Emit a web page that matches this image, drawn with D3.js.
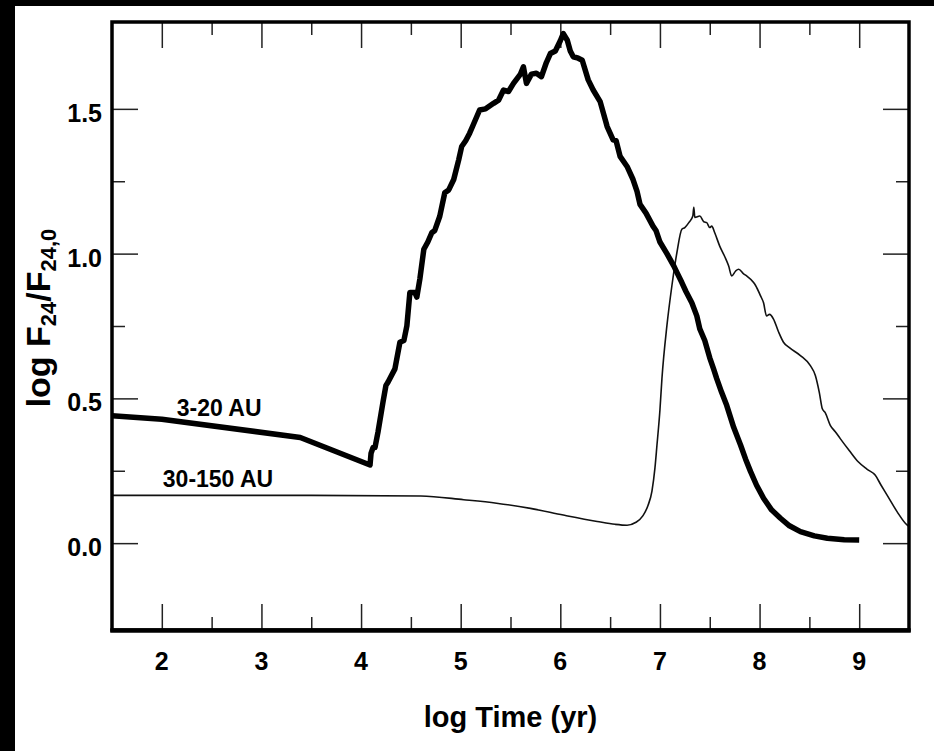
<!DOCTYPE html>
<html>
<head>
<meta charset="utf-8">
<script src="https://cdn.jsdelivr.net/npm/d3@7"></script>
<style>
  body { margin: 0; background: #fff; }
  svg { display: block; font-family: "Liberation Sans", Arial, Helvetica, sans-serif; font-weight: bold; }
</style>
</head>
<body>
<svg id="chart" width="934" height="751"></svg>
<script>
// curves: [log time, log F24/F24,0]
var inner = [[1.5,0.44],[2.0,0.428],[3.39,0.365],[4.09,0.27],[4.10,0.31],[4.12,0.33],[4.14,0.33],[4.17,0.384],
  [4.22,0.487],[4.25,0.545],[4.27,0.556],[4.34,0.602],[4.39,0.694],[4.43,0.70],[4.46,0.751],[4.49,0.866],
  [4.54,0.866],[4.56,0.85],[4.59,0.912],[4.63,1.015],[4.67,1.04],[4.71,1.072],[4.74,1.08],[4.79,1.129],
  [4.84,1.21],[4.88,1.22],[4.93,1.256],[4.98,1.324],[5.01,1.37],[5.05,1.39],[5.09,1.416],[5.12,1.44],
  [5.19,1.496],[5.25,1.50],[5.33,1.519],[5.38,1.53],[5.43,1.565],[5.48,1.56],[5.53,1.588],[5.60,1.62],
  [5.63,1.645],[5.66,1.588],[5.71,1.62],[5.76,1.623],[5.81,1.611],[5.86,1.66],[5.90,1.691],[5.95,1.70],
  [6.0,1.735],[6.03,1.76],[6.07,1.737],[6.10,1.70],[6.13,1.68],[6.18,1.675],[6.22,1.668],[6.28,1.6],
  [6.33,1.565],[6.40,1.525],[6.47,1.439],[6.53,1.393],[6.56,1.39],[6.60,1.336],[6.67,1.301],[6.73,1.256],
  [6.77,1.215],[6.80,1.17],[6.86,1.14],[6.93,1.095],[6.96,1.08],[7.0,1.04],[7.07,1.0],[7.14,0.957],
  [7.17,0.935],[7.22,0.90],[7.26,0.87],[7.32,0.83],[7.37,0.785],[7.40,0.74],[7.45,0.70],[7.50,0.64],
  [7.54,0.60],[7.57,0.568],[7.62,0.52],[7.67,0.476],[7.74,0.40],[7.81,0.338],[7.86,0.29],[7.91,0.247],
  [7.97,0.20],[8.04,0.155],[8.12,0.115],[8.21,0.086],[8.30,0.06],[8.41,0.040],[8.55,0.025],[8.68,0.017],
  [8.85,0.012],[9.0,0.011]];

var outer = [[1.5,0.165],[3.5,0.165],[4.6,0.163],[5.03,0.150],[5.36,0.138],[5.70,0.120],[6.03,0.097],[6.37,0.075],
  [6.55,0.065],[6.67,0.062],[6.76,0.072],[6.83,0.095],[6.88,0.13],[6.92,0.18],[6.95,0.26],[6.97,0.338],
  [7.0,0.46],[7.02,0.568],[7.07,0.751],[7.12,0.889],[7.17,1.003],[7.22,1.084],[7.25,1.09],[7.29,1.107],
  [7.33,1.13],[7.34,1.16],[7.35,1.125],[7.40,1.13],[7.44,1.11],[7.47,1.107],[7.50,1.09],[7.52,1.095],
  [7.55,1.072],[7.60,1.026],[7.65,0.99],[7.69,0.957],[7.72,0.923],[7.76,0.94],[7.79,0.946],[7.84,0.93],
  [7.87,0.923],[7.94,0.900],[7.96,0.89],[8.01,0.854],[8.04,0.83],[8.07,0.785],[8.10,0.79],[8.14,0.774],
  [8.19,0.73],[8.24,0.694],[8.30,0.675],[8.41,0.648],[8.51,0.613],[8.56,0.579],[8.60,0.52],[8.63,0.464],
  [8.66,0.45],[8.71,0.407],[8.76,0.385],[8.81,0.361],[8.90,0.32],[8.99,0.281],[9.08,0.255],[9.16,0.235],
  [9.22,0.2],[9.28,0.166],[9.38,0.109],[9.48,0.063],[9.5,0.058]];

var xMajor = [2,3,4,5,6,7,8,9];
var xMinor = [2.5,3.5,4.5,5.5,6.5,7.5,8.5];
var yMajor = [0,0.5,1.0,1.5];
var yMinor = [0.25,0.75,1.25];
var curveLabels = [["3-20 AU",2.15,0.439],["30-150 AU",2.01,0.194]];

var svg = d3.select("#chart");
var pLeft = 112, pRight = 909, pTop = 22, pBottom = 630;

// black edges of the scanned figure
svg.append("rect").attr("x",0).attr("y",0).attr("width",934).attr("height",6).attr("fill","#000");
svg.append("rect").attr("x",0).attr("y",0).attr("width",15).attr("height",751).attr("fill","#000");

var x = d3.scaleLinear().domain([1.5, 9.5]).range([pLeft, pRight]);
var y = d3.scaleLinear().domain([-0.3, 1.8]).range([pBottom, pTop]);

function tickAxis(axis, g, major, minor) {
    g.call(axis.tickValues(major).tickSize(-26).tickFormat(""));
    var m = svg.append("g").attr("transform", g.attr("transform"))
        .call(axis.tickValues(minor).tickSize(-13).tickFormat(""));
    [g, m].forEach(function(s) {
        s.select(".domain").remove();
        s.selectAll(".tick line").attr("stroke","#222").attr("stroke-width",1.5);
    });
}

tickAxis(d3.axisBottom(x), svg.append("g").attr("transform","translate(0,"+pBottom+")"), xMajor, xMinor);
tickAxis(d3.axisTop(x), svg.append("g").attr("transform","translate(0,"+pTop+")"), xMajor, xMinor);
tickAxis(d3.axisLeft(y), svg.append("g").attr("transform","translate("+pLeft+",0)"), yMajor, yMinor);
tickAxis(d3.axisRight(y), svg.append("g").attr("transform","translate("+pRight+",0)"), yMajor, yMinor);

// tick labels
svg.append("g").selectAll("text").data(xMajor).enter().append("text")
    .attr("x", function(d) { return x(d); })
    .attr("y", pBottom + 40)
    .attr("text-anchor","middle").attr("font-size",25)
    .text(function(d) { return d; });

svg.append("g").selectAll("text").data(yMajor).enter().append("text")
    .attr("x", pLeft - 10)
    .attr("y", function(d) { return y(d) + 13; })
    .attr("text-anchor","end").attr("font-size",25)
    .text(function(d) { return d3.format(".1f")(d); });

svg.append("clipPath").attr("id","plot").append("rect")
    .attr("x",pLeft).attr("y",pTop).attr("width",pRight-pLeft).attr("height",pBottom-pTop);

var line = d3.line().x(function(d) { return x(d[0]); }).y(function(d) { return y(d[1]); });

var curves = svg.append("g").attr("clip-path","url(#plot)");
curves.append("path").datum(outer).attr("d", line.curve(d3.curveMonotoneX))
    .attr("fill","none").attr("stroke","#111").attr("stroke-width",1.6).attr("stroke-linejoin","round");
curves.append("path").datum(inner).attr("d", line.curve(d3.curveLinear))
    .attr("fill","none").attr("stroke","#000").attr("stroke-width",5.5).attr("stroke-linejoin","round");

svg.append("g").selectAll("text").data(curveLabels).enter().append("text")
    .attr("x", function(d) { return x(d[1]); })
    .attr("y", function(d) { return y(d[2]); })
    .attr("font-size",23)
    .text(function(d) { return d[0]; });

// frame
svg.append("rect").attr("x",pLeft).attr("y",pTop).attr("width",pRight-pLeft).attr("height",pBottom-pTop)
    .attr("fill","none").attr("stroke","#000").attr("stroke-width",3.5);
svg.append("line").attr("x1",pLeft-1.75).attr("x2",pRight+1.75).attr("y1",pBottom+0.5).attr("y2",pBottom+0.5)
    .attr("stroke","#000").attr("stroke-width",4.5);

// axis titles
svg.append("text").attr("x",(pLeft+pRight)/2).attr("y",727)
    .attr("text-anchor","middle").attr("font-size",29).text("log Time (yr)");

var yt = svg.append("text").attr("transform","translate(50,318) rotate(-90)")
    .attr("text-anchor","middle").attr("font-size",34);
yt.append("tspan").text("log F");
yt.append("tspan").attr("font-size",22).attr("dy",6).text("24");
yt.append("tspan").attr("dy",-6).text("/F");
yt.append("tspan").attr("font-size",22).attr("dy",6).text("24,0");
</script>
</body>
</html>
